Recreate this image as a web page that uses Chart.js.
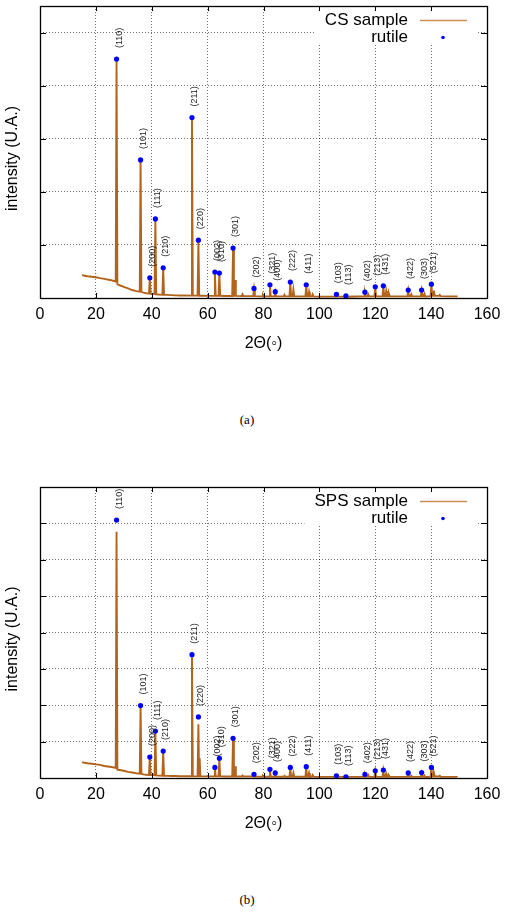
<!DOCTYPE html>
<html>
<head>
<meta charset="utf-8">
<script src="https://cdn.jsdelivr.net/npm/chart.js@4.4.0/dist/chart.umd.min.js"></script>
<style>
  body { margin: 0; background: #fff; width: 510px; height: 913px; position: relative; overflow: hidden; }
  .panel { position: absolute; left: 0; width: 510px; height: 360px; }
  .caption { position: absolute; left: 0; width: 494px; text-align: center;
             font-family: "Liberation Serif", serif; font-size: 13px; line-height: 14px; }
</style>
</head>
<body>
<div class="panel" style="top:0"><canvas id="chartA" width="510" height="360"></canvas></div>
<div class="caption" style="top:413px">(a)</div>
<div class="panel" style="top:480px"><canvas id="chartB" width="510" height="360"></canvas></div>
<div class="caption" style="top:893px">(b)</div>
<script>
/////////////////////////////// data //////////////////////////////////

const xTicks = [0, 20, 40, 60, 80, 100, 120, 140, 160];

const hklLabels = ['(110)', '(101)', '(200)', '(111)', '(210)', '(211)', '(220)', '(002)', '(310)', '(301)',
    '(202)', '(321)', '(400)', '(222)', '(411)', '(103)', '(113)', '(402)', '(213)', '(431)',
    '(422)', '(303)', '(521)'];

const rutileTheta = [27.4, 36.0, 39.3, 41.3, 44.1, 54.4, 56.7, 62.6, 64.2, 69.1,
    76.6, 82.3, 84.2, 89.6, 95.3, 106.1, 109.5, 116.3, 120.0, 122.9,
    131.8, 136.6, 140.1];

// reference intensities as placed on each panel
const rutileCS = [4.50, 2.60, 0.38, 1.49, 0.57, 3.40, 1.09, 0.49, 0.47, 0.94,
    0.18, 0.25, 0.12, 0.30, 0.25, 0.07, 0.04, 0.11, 0.21, 0.23,
    0.15, 0.15, 0.26];
const rutileSPS = [7.09, 1.99, 0.575, 1.29, 0.74, 3.39, 1.68, 0.29, 0.54, 1.09,
    0.10, 0.24, 0.14, 0.29, 0.31, 0.06, 0.03, 0.10, 0.20, 0.22,
    0.14, 0.15, 0.29];

// measured scans, [2theta, intensity]
const csScan = [[15, 0.43], [16, 0.42], [17, 0.41], [18.5, 0.40], [20, 0.39], [21.5, 0.375], [23, 0.36], [25, 0.34],
    [26.5, 0.32], [27.1, 0.31], [27.4, 4.48], [27.7, 0.26], [28.5, 0.24], [30, 0.21], [31.5, 0.18], [33, 0.15],
    [34.5, 0.13], [35.7, 0.12], [36.0, 2.58], [36.3, 0.12], [36.6, 0.11], [37, 0.10], [38, 0.09], [39.0, 0.085],
    [39.3, 0.36], [39.6, 0.08], [40.2, 0.078], [41.0, 0.075], [41.3, 1.47], [41.6, 0.07], [42.5, 0.065], [43.8, 0.062],
    [44.1, 0.55], [44.4, 0.06], [45.5, 0.058], [47, 0.055], [48.5, 0.05], [50, 0.048], [52, 0.046], [54.1, 0.045],
    [54.4, 3.38], [54.7, 0.045], [55.2, 0.044], [56.4, 0.044], [56.7, 1.07], [57.0, 0.043], [58.5, 0.042], [60, 0.04],
    [62.3, 0.04], [62.6, 0.47], [62.9, 0.04], [63.9, 0.04], [64.2, 0.45], [64.5, 0.04], [66, 0.038], [68.8, 0.038],
    [69.1, 0.92], [69.4, 0.04], [69.55, 0.04], [69.8, 0.34], [70.1, 0.04], [72.2, 0.035], [72.5, 0.07], [72.8, 0.035],
    [76.3, 0.035], [76.6, 0.17], [76.9, 0.035], [79.5, 0.03], [79.8, 0.06], [80.1, 0.03], [82.0, 0.03], [82.3, 0.24],
    [82.6, 0.03], [83.9, 0.03], [84.2, 0.11], [84.5, 0.03], [87.2, 0.03], [87.5, 0.06], [87.8, 0.03], [89.3, 0.03],
    [89.6, 0.29], [89.9, 0.03], [90.4, 0.03], [90.7, 0.16], [91.0, 0.03], [95.0, 0.03], [95.3, 0.24], [95.6, 0.03],
    [96.0, 0.03], [96.3, 0.12], [96.6, 0.03], [97.3, 0.03], [97.6, 0.07], [97.9, 0.03], [100, 0.025], [103, 0.025],
    [105.8, 0.025], [106.1, 0.06], [106.4, 0.025], [109.2, 0.025], [109.5, 0.035], [109.8, 0.025], [113, 0.028],
    [116.0, 0.03], [116.3, 0.10], [116.6, 0.03], [117.2, 0.03], [117.5, 0.07], [117.8, 0.03], [119.7, 0.03],
    [120.0, 0.20], [120.3, 0.03], [122.6, 0.03], [122.9, 0.22], [123.2, 0.03], [123.6, 0.03], [123.9, 0.13],
    [124.2, 0.03], [124.6, 0.03], [124.9, 0.08], [125.2, 0.03], [128, 0.03], [131.5, 0.03], [131.8, 0.14],
    [132.1, 0.03], [132.6, 0.03], [132.9, 0.07], [133.2, 0.03], [136.3, 0.03], [136.6, 0.14], [136.9, 0.03],
    [137.3, 0.03], [137.6, 0.08], [137.9, 0.03], [139.8, 0.035], [140.1, 0.25], [140.4, 0.04], [140.7, 0.04],
    [141.0, 0.14], [141.3, 0.04], [142.8, 0.04], [143.1, 0.06], [143.4, 0.035], [146, 0.03], [149.5, 0.03]];

const spsScan = [[15, 0.43], [16, 0.42], [17, 0.405], [18.5, 0.39], [20, 0.375], [21.5, 0.36], [23, 0.33], [25, 0.31],
    [26.5, 0.29], [27.1, 0.28], [27.4, 6.77], [27.7, 0.23], [28.5, 0.22], [30, 0.20], [31.5, 0.17], [33, 0.15],
    [34.5, 0.13], [35.7, 0.12], [36.0, 1.97], [36.3, 0.12], [36.6, 0.11], [37, 0.10], [38, 0.09], [39.0, 0.085],
    [39.3, 0.56], [39.6, 0.08], [40.2, 0.078], [41.0, 0.075], [41.3, 1.24], [41.6, 0.07], [42.5, 0.065], [43.8, 0.06],
    [44.1, 0.72], [44.4, 0.06], [45.5, 0.058], [47, 0.055], [48.5, 0.053], [50, 0.05], [52, 0.048], [54.1, 0.047],
    [54.4, 3.37], [54.7, 0.047], [55.2, 0.046], [56.4, 0.045], [56.7, 1.48], [56.95, 0.045], [57.15, 0.55],
    [57.4, 0.045], [58.5, 0.045], [60, 0.045], [62.3, 0.045], [62.6, 0.28], [62.9, 0.045], [63.9, 0.045],
    [64.2, 0.52], [64.5, 0.045], [66, 0.042], [68.8, 0.04], [69.1, 1.07], [69.4, 0.04], [69.55, 0.04], [69.8, 0.32],
    [70.1, 0.04], [72.2, 0.04], [72.5, 0.07], [72.8, 0.04], [76.3, 0.04], [76.6, 0.09], [76.9, 0.04], [79.5, 0.035],
    [79.8, 0.06], [80.1, 0.035], [82.0, 0.035], [82.3, 0.22], [82.6, 0.035], [83.9, 0.035], [84.2, 0.12],
    [84.5, 0.035], [87.2, 0.035], [87.5, 0.06], [87.8, 0.035], [89.3, 0.035], [89.6, 0.27], [89.9, 0.035],
    [90.4, 0.035], [90.7, 0.14], [91.0, 0.035], [95.0, 0.035], [95.3, 0.29], [95.6, 0.035], [96.0, 0.035],
    [96.3, 0.14], [96.6, 0.035], [97.3, 0.035], [97.6, 0.08], [97.9, 0.035], [100, 0.03], [103, 0.03],
    [105.8, 0.03], [106.1, 0.05], [106.4, 0.03], [109.2, 0.03], [109.5, 0.035], [109.8, 0.03], [113, 0.03],
    [116.0, 0.03], [116.3, 0.09], [116.6, 0.03], [117.2, 0.03], [117.5, 0.08], [117.8, 0.03], [119.7, 0.03],
    [120.0, 0.19], [120.3, 0.03], [122.6, 0.03], [122.9, 0.20], [123.2, 0.03], [123.6, 0.03], [123.9, 0.12],
    [124.2, 0.03], [124.6, 0.03], [124.9, 0.07], [125.2, 0.03], [128, 0.03], [131.5, 0.03], [131.8, 0.12],
    [132.1, 0.03], [132.6, 0.03], [132.9, 0.06], [133.2, 0.03], [136.3, 0.03], [136.6, 0.13], [136.9, 0.03],
    [137.3, 0.03], [137.6, 0.07], [137.9, 0.03], [139.8, 0.035], [140.1, 0.28], [140.4, 0.04], [140.7, 0.04],
    [141.0, 0.14], [141.3, 0.04], [142.8, 0.04], [143.1, 0.06], [143.4, 0.035], [146, 0.03], [149.5, 0.03]];

/////////////////////////////// drawing //////////////////////////////////

const FONT = '"Liberation Sans", Arial, sans-serif';
const sampleColor = '#b4631b';
const gridColor = 'rgba(0,0,0,0.55)';

// gnuplot-like frame, inward ticks, key box and hkl labels
const gnuplotLook = {
    id: 'gnuplotLook',
    beforeDatasetsDraw(chart) {
        const { ctx, chartArea: ca } = chart;
        const names = [chart.data.datasets[1].label, chart.data.datasets[0].label];
        const textRight = ca.right - 79;
        ctx.save();
        ctx.font = '17px ' + FONT;
        const w = Math.max(...names.map(n => ctx.measureText(n).width));
        ctx.fillStyle = '#fff';
        ctx.fillRect(textRight - w - 10, ca.top + 1, ca.right - 10 - (textRight - w - 10), 38);
        ctx.fillStyle = '#000';
        ctx.textAlign = 'right';
        ctx.textBaseline = 'middle';
        ctx.fillText(names[0], textRight, ca.top + 14);
        ctx.fillText(names[1], textRight, ca.top + 31);
        ctx.strokeStyle = '#c98f55';
        ctx.lineWidth = 1.3;
        ctx.beginPath();
        ctx.moveTo(ca.right - 67, ca.top + 14.5);
        ctx.lineTo(ca.right - 20, ca.top + 14.5);
        ctx.stroke();
        ctx.fillStyle = '#0000ff';
        ctx.beginPath();
        ctx.arc(ca.right - 44, ca.top + 31.5, 1.8, 0, Math.PI * 2);
        ctx.fill();
        ctx.restore();
    },
    afterDatasetsDraw(chart) {
        const { ctx } = chart;
        const meta = chart.getDatasetMeta(0);
        ctx.save();
        ctx.font = '9px ' + FONT;
        ctx.fillStyle = '#222';
        ctx.textAlign = 'left';
        ctx.textBaseline = 'middle';
        meta.data.forEach((pt, i) => {
            ctx.save();
            ctx.translate(pt.x + 2.5, pt.y - 11);
            ctx.rotate(-Math.PI / 2);
            ctx.fillText(hklLabels[i], 0, 0);
            ctx.restore();
        });
        ctx.restore();
    },
    afterDraw(chart, args, opts) {
        const { ctx, chartArea: ca, scales } = chart;
        ctx.save();
        ctx.strokeStyle = '#000';
        ctx.lineWidth = 1;
        ctx.beginPath();
        scales.x.ticks.forEach(t => {
            if (t.value <= 0 || t.value >= 160) return;
            const px = Math.round(scales.x.getPixelForValue(t.value)) + 0.5;
            ctx.moveTo(px, ca.bottom); ctx.lineTo(px, ca.bottom - 5);
            ctx.moveTo(px, ca.top); ctx.lineTo(px, ca.top + 5);
        });
        scales.y.ticks.forEach(t => {
            if (t.value <= 0 || t.value >= opts.yMax) return;
            const py = Math.round(scales.y.getPixelForValue(t.value)) + 0.5;
            ctx.moveTo(ca.left, py); ctx.lineTo(ca.left + 6, py);
            ctx.moveTo(ca.right, py); ctx.lineTo(ca.right - 6, py);
        });
        ctx.stroke();
        ctx.lineWidth = 1.3;
        ctx.strokeRect(ca.left + 0.5, ca.top + 0.5, ca.right - ca.left, ca.bottom - ca.top);

        ctx.fillStyle = '#000';
        ctx.font = '16px ' + FONT;
        ctx.textAlign = 'center';
        ctx.textBaseline = 'middle';
        ctx.translate(13, (ca.top + ca.bottom) / 2 + 6.5);
        ctx.rotate(-Math.PI / 2);
        ctx.fillText('intensity (U.A.)', 0, 0);
        ctx.restore();
    }
};

window.drawXrdChart = (chartid, sampleLabel, scan, refPeaks, yMax, padTop) => {

    var ctx = document.getElementById(chartid).getContext('2d');

    return new Chart(ctx, {
        type: 'scatter',
        data: {
            datasets: [{
                label: 'rutile',
                data: rutileTheta.map((t, i) => ({ x: t, y: refPeaks[i] })),
                backgroundColor: '#0000ff',
                borderColor: '#0000ff',
                pointRadius: 2.6,
                borderWidth: 0,
                order: 0
            }, {
                label: sampleLabel,
                data: scan.map(p => ({ x: p[0], y: p[1] })),
                showLine: true,
                borderColor: sampleColor,
                borderWidth: 1.9,
                pointRadius: 0,
                tension: 0,
                order: 1
            }]
        },
        options: {
            responsive: false,
            animation: false,
            layout: { padding: { top: padTop, right: 23, left: 0, bottom: 0 } },
            scales: {
                x: {
                    type: 'linear',
                    min: 0,
                    max: 160,
                    afterBuildTicks: s => { s.ticks = xTicks.map(v => ({ value: v })); },
                    afterFit: s => { s.height = 62; },
                    ticks: { font: { family: FONT, size: 16 }, color: '#000', padding: 7, maxRotation: 0 },
                    grid: {
                        drawTicks: false,
                        color: c => (c.tick.value <= 0 || c.tick.value >= 160) ? 'rgba(0,0,0,0)' : gridColor
                    },
                    border: { display: false, dash: [1, 2] },
                    title: {
                        display: true,
                        text: '2Θ(◦)',
                        font: { family: FONT, size: 16 },
                        color: '#000',
                        padding: { top: 0, bottom: 7 }
                    }
                },
                y: {
                    min: 0,
                    max: yMax,
                    afterFit: s => { s.width = 40; },
                    ticks: { display: false, stepSize: 1 },
                    grid: {
                        drawTicks: false,
                        color: c => (c.tick.value <= 0 || c.tick.value >= yMax) ? 'rgba(0,0,0,0)' : gridColor
                    },
                    border: { display: false, dash: [1, 2] }
                }
            },
            plugins: {
                legend: { display: false },
                tooltip: { enabled: false },
                gnuplotLook: { yMax: yMax }
            }
        },
        plugins: [gnuplotLook]
    });
};

drawXrdChart('chartA', 'CS sample', csScan, rutileCS, 5.5, 6);
drawXrdChart('chartB', 'SPS sample', spsScan, rutileSPS, 8, 7);
</script>
</body>
</html>
